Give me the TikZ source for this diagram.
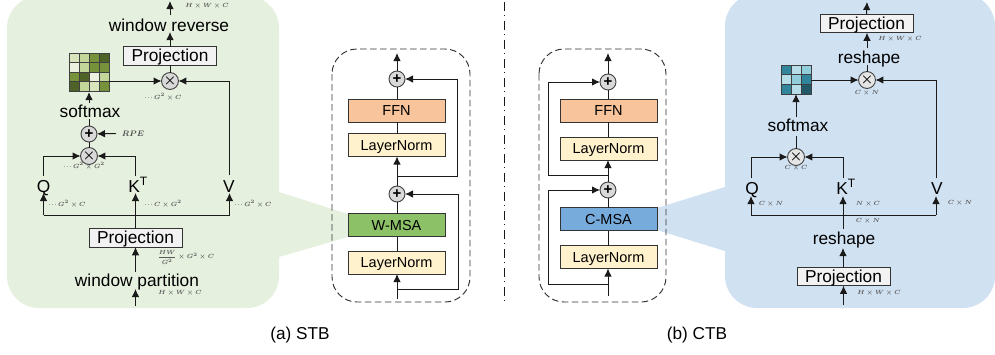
\documentclass[tikz,border=0pt]{standalone}
\usepackage{fontspec}
\usepackage{amsmath}
\setmainfont{Liberation Sans}
\usetikzlibrary{arrows.meta}
\definecolor{panelG}{HTML}{E6F0DF}
\definecolor{panelB}{HTML}{D0E1F2}
\definecolor{lnk}{HTML}{1A1A1A}
\definecolor{fillLN}{HTML}{FFF2CC}
\definecolor{fillFFN}{HTML}{F8C49B}
\definecolor{fillW}{HTML}{8CC168}
\definecolor{fillC}{HTML}{77ABDB}
\definecolor{gA}{HTML}{EBF1DE}\definecolor{gB}{HTML}{D8E4BC}\definecolor{gC}{HTML}{C4D79B}\definecolor{gD}{HTML}{76933C}\definecolor{gE}{HTML}{4F6228}
\definecolor{bA}{HTML}{B7DEE8}\definecolor{bB}{HTML}{92CDDC}\definecolor{bC}{HTML}{31859C}\definecolor{bD}{HTML}{215968}
\tikzset{
  wire/.style={draw=lnk,line width=0.95pt},
  arr/.style={wire,-{Latex[length=8pt,width=7.5pt]}},
  big/.style={font=\fontsize{17.3}{20}\selectfont,text=black,inner sep=0pt,outer sep=0pt,text height=12.5pt,text depth=0.5pt},
  proj/.style={draw=black!80,fill=white!95!black,line width=0.9pt,minimum width=93pt,minimum height=18.5pt,inner sep=0pt,outer sep=0pt,font=\fontsize{17.3}{20}\selectfont,text=black,text height=14pt,text depth=3pt},
  blockbox/.style={draw=black!80,line width=0.9pt,minimum width=97pt,minimum height=23pt,inner sep=0pt,outer sep=0pt,font=\fontsize{14.5}{17}\selectfont,text=black,text height=11pt,text depth=1pt},
  opc/.style={circle,draw=black!75,fill=black!15,line width=0.9pt,minimum size=16pt,inner sep=0pt,outer sep=0pt,font=\fontsize{15}{15}\selectfont\bfseries,text=black},
  dimlab/.style={font=\fontsize{6.4}{8}\selectfont\boldmath,text=black!65,inner sep=0pt},
  captext/.style={font=\fontsize{17.2}{20}\selectfont,text=black,inner sep=0pt},
  cellg/.style={draw=black!75,line width=0.8pt,minimum size=10pt,inner sep=0pt,outer sep=0pt},
  dashbox/.style={draw=black!80,line width=0.95pt,dash pattern=on 6.5pt off 3.5pt,rounded corners=25pt}
}
\newcommand{\dd}{\cdot\!\cdot\!\cdot\,}
\begin{document}
\begin{tikzpicture}[x=1pt,y=-1pt]
\useasboundingbox (0,0) rectangle (995,354);
\clip (0,0) rectangle (995,354);
% panels and wedges
\fill[panelG] (279,192) -- (348,214) -- (348,237) -- (279,257) -- cycle;
\fill[panelB] (725,187) -- (657,208) -- (657,230) -- (725,251) -- cycle;
\fill[panelG,rounded corners=32pt] (7,-4) rectangle (279,308);
\fill[panelB,rounded corners=32pt] (725,-6) rectangle (995,308);
% dashed frames
\draw[dashbox] (332,49) rectangle (470,302);
\draw[dashbox] (539,49) rectangle (666,302);
\draw[draw=black!90,line width=1.1pt,dash pattern=on 9pt off 4pt on 1pt off 5pt] (504.5,2) -- (504.5,301);

% ---- STB block
\node[opc] (sa1) at (397,79) {+};
\node[blockbox,fill=fillFFN] (sffn) at (396.5,110.5) {FFN};
\node[blockbox,fill=fillLN] (sln1) at (396.5,145) {LayerNorm};
\node[opc] (sa2) at (397,194) {+};
\node[blockbox,fill=fillW] (swm) at (396.5,225) {W-MSA};
\node[blockbox,fill=fillLN] (sln2) at (396.5,262.5) {LayerNorm};
\coordinate (sout) at (397,53);
\coordinate (sin) at (397,299);
\coordinate (sj1) at (397,176);
\coordinate (sj2) at (397,289);
\coordinate (sr1) at (457,176);
\coordinate (sr2) at (458,289);
\draw[arr] (sa1) -- (sout);
\draw[wire] (sffn.north -| sa1) -- (sa1);
\draw[wire] (sln1.north -| sa1) -- (sffn.south -| sa1);
\draw[arr] (sa2) -- (sln1.south -| sa2);
\draw[wire] (swm.north -| sa2) -- (sa2);
\draw[wire] (sln2.north -| sa2) -- (swm.south -| sa2);
\draw[arr] (sin) -- (sln2.south -| sin);
\draw[arr] (sj1) -- (sr1) -- (sr1 |- sa1) -- (sa1);
\draw[arr] (sj2) -- (sr2) -- (sr2 |- sa2) -- (sa2);

% ---- CTB block
\node[opc] (ca1) at (608,82) {+};
\node[blockbox,fill=fillFFN] (cffn) at (608.5,110.5) {FFN};
\node[blockbox,fill=fillLN] (cln1) at (608.5,148.5) {LayerNorm};
\node[opc] (ca2) at (608,190) {+};
\node[blockbox,fill=fillC] (ccm) at (608.5,219) {C-MSA};
\node[blockbox,fill=fillLN] (cln2) at (608.5,257) {LayerNorm};
\coordinate (cout) at (608,53);
\coordinate (cin) at (608,296);
\coordinate (cj1) at (608,175);
\coordinate (cj2) at (608,284);
\coordinate (cl1) at (548,175);
\coordinate (cl2) at (548,284);
\draw[arr] (ca1) -- (cout);
\draw[wire] (cffn.north -| ca1) -- (ca1);
\draw[wire] (cln1.north -| ca1) -- (cffn.south -| ca1);
\draw[arr] (ca2) -- (cln1.south -| ca2);
\draw[wire] (ccm.north -| ca2) -- (ca2);
\draw[wire] (cln2.north -| ca2) -- (ccm.south -| ca2);
\draw[arr] (cin) -- (cln2.south -| cin);
\draw[arr] (cj1) -- (cl1) -- (cl1 |- ca1) -- (ca1);
\draw[arr] (cj2) -- (cl2) -- (cl2 |- ca2) -- (ca2);

% ---- Green panel
\node[big] (gwr) at (169,25) {window reverse};
\node[proj] (gp1) at (170,56) {Projection};
\node[opc] (gt1) at (170,81) {$\boldsymbol{\times}$};
\node[big] (gsm) at (90,111) {softmax};
\node[opc] (gadd) at (89,134) {+};
\node[opc] (gt2) at (89,156) {$\boldsymbol{\times}$};
\node[big] (gq) at (43.5,186) {Q};
\node[big] (gk) at (138,186) {K\textsuperscript{T}};
\node[big] (gv) at (229,186) {V};
\node[proj] (gp2) at (135.5,238) {Projection};
\node[big] (gwp) at (137,280) {window partition};
\node[font=\fontsize{8.2}{9}\selectfont\boldmath,inner sep=0pt,text=black!70] (grpe) at (133,133.5) {$RPE$};
% heatmap
\foreach \r/\cols in {0/{gB,gC,gD,gE},1/{gA,gC,gD,gD},2/{gD,gE,gA,gC},3/{gE,gC,gB,gD}}{
  \foreach \c [count=\k from 0] in \cols {
    \node[cellg,fill=\c] at ({74+\k*10},{57.75+\r*9.5}) [minimum height=9.5pt] {};
  }
}
\coordinate (ghR) at (109,81);
\coordinate (ghB) at (89,92);
\coordinate (gtop) at (170,1);
\coordinate (gtopS) at (170,15);
\coordinate (gwrS) at (170,32);
\coordinate (gsmN) at (89,103);
\coordinate (gsmS) at (89,119);
\coordinate (grpeW) at (116,133.5);
\coordinate (gqn) at (43.5,176);
\coordinate (gkn) at (135.5,176);
\coordinate (gvn) at (229.5,175);
\coordinate (gbusL) at (43.5,215);
\coordinate (gbusR) at (229.5,215);
\coordinate (gqs) at (43.5,193);
\coordinate (gks) at (135.5,193);
\coordinate (gvs) at (229.5,193);
\coordinate (gwpN) at (135.5,272);
\coordinate (gwpS) at (135.5,289);
\coordinate (gbot) at (135.5,306);
\draw[arr] (gtopS) -- (gtop);
\draw[arr] (gp1.north) -- (gwrS);
\draw[wire] (gt1) -- (gp1.south);
\draw[arr] (ghR) -- (gt1);
\draw[arr] (gvn) -- (gvn |- gt1) -- (gt1);
\draw[arr] (gsmN) -- (ghB);
\draw[wire] (gadd) -- (gsmS);
\draw[arr] (grpeW) -- (gadd);
\draw[wire] (gt2) -- (gadd);
\draw[arr] (gqn) -- (gqn |- gt2) -- (gt2);
\draw[arr] (gkn) -- (gkn |- gt2) -- (gt2);
\draw[arr] (gbusL) -- (gqs);
\draw[arr] (gbusR) -- (gvs);
\draw[wire] (gbusL) -- (gbusR);
\draw[arr] (gp2.north) -- (gks);
\draw[arr] (gwpN) -- (gp2.south);
\draw[arr] (gbot) -- (gwpS);
\node[dimlab] at (207,6) {$H\times W\times C$};
\node[dimlab] at (163,97) {$\dd G^2\times C$};
\node[dimlab] at (84,166) {$\dd G^2\times G^2$};
\node[dimlab] at (67,204) {$\dd G^2\times C$};
\node[dimlab] at (163,204) {$\dd C\times G^2$};
\node[dimlab] at (253,204) {$\dd G^2\times C$};
\node[dimlab] at (186,257) {$\dfrac{HW}{G^2}\times G^2\times C$};
\node[dimlab] at (180,293) {$H\times W\times C$};

% ---- Blue panel
\node[proj] (bp1) at (866.5,23.5) {Projection};
\node[big] (brs1) at (869,57) {reshape};
\node[opc,fill=black!10] (bt1) at (867,80) {$\boldsymbol{\times}$};
\node[big] (bsm) at (798,125) {softmax};
\node[opc,fill=black!10] (bt2) at (796,157) {$\boldsymbol{\times}$};
\node[big] (bq) at (752,188) {Q};
\node[big] (bk) at (846,188) {K\textsuperscript{T}};
\node[big] (bv) at (937,188) {V};
\node[big] (brs2) at (844,238) {reshape};
\node[proj] (bp2) at (843.5,276.5) {Projection};
\foreach \r/\cols in {0/{bC,bA,bB},1/{bA,bB,bC},2/{bC,bA,bD}}{
  \foreach \c [count=\k from 0] in \cols {
    \node[cellg,fill=\c] at ({786+\k*10},{69.83+\r*9.67}) [minimum height=9.67pt] {};
  }
}
\coordinate (bhR) at (811,80);
\coordinate (bhB) at (796,94);
\coordinate (btop) at (867,2);
\coordinate (brs1N) at (867,48);
\coordinate (brs1S) at (867,65);
\coordinate (bsmN) at (796,117);
\coordinate (bsmS) at (796,136);
\coordinate (bqn) at (751,178);
\coordinate (bkn) at (843,178);
\coordinate (bvn) at (936,178);
\coordinate (bbusL) at (751,215);
\coordinate (bbusR) at (936,215);
\coordinate (bqs) at (751,196);
\coordinate (bks) at (843,196);
\coordinate (bvs) at (936,196);
\coordinate (brs2N) at (843,229);
\coordinate (brs2S) at (843,248);
\coordinate (bbot) at (843.5,305);
\draw[arr] (bp1.north) -- (btop);
\draw[arr] (brs1N) -- (bp1.south -| brs1N);
\draw[wire] (bt1) -- (brs1S);
\draw[arr] (bhR) -- (bt1);
\draw[arr] (bvn) -- (bvn |- bt1) -- (bt1);
\draw[arr] (bsmN) -- (bhB);
\draw[wire] (bt2) -- (bsmS);
\draw[arr] (bqn) -- (bqn |- bt2) -- (bt2);
\draw[arr] (bkn) -- (bkn |- bt2) -- (bt2);
\draw[arr] (bbusL) -- (bqs);
\draw[arr] (bbusR) -- (bvs);
\draw[wire] (bbusL) -- (bbusR);
\draw[arr] (brs2N) -- (bks);
\draw[arr] (bp2.north -| brs2S) -- (brs2S);
\draw[arr] (bbot) -- (bp2.south);
\node[dimlab] at (900,39) {$H\times W\times C$};
\node[dimlab] at (867,93) {$C\times N$};
\node[dimlab] at (796,168) {$C\times C$};
\node[dimlab] at (771,204) {$C\times N$};
\node[dimlab] at (868,204) {$N\times C$};
\node[dimlab] at (960,203) {$C\times N$};
\node[dimlab] at (868,221) {$C\times N$};
\node[dimlab] at (879,293) {$H\times W\times C$};

% captions
\node[captext] (capa) at (300,335) {(a) STB};
\node[captext] (capb) at (697,335) {(b) CTB};
\end{tikzpicture}
\end{document}
